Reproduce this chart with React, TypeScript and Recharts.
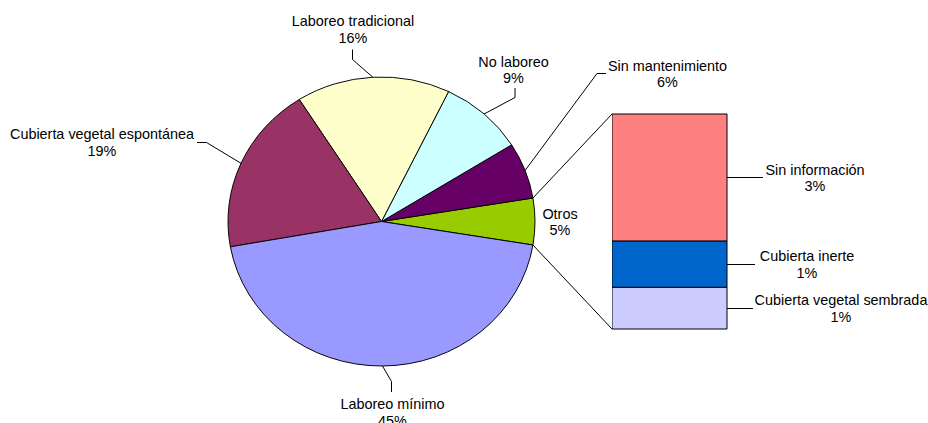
import React from 'react';
import { PieChart, Pie, Cell, BarChart, Bar, XAxis, YAxis, LabelList } from 'recharts';

// breakdown of "Otros" (drawn as the stacked bar)
const BAR_NAMES = ['Sin información', 'Cubierta inerte', 'Cubierta vegetal sembrada'];
const BAR_VALUES = [3.07, 1.12, 1.01];
const BAR_COLORS = ['#FF8080', '#0066CC', '#CCCCFF'];

const OTROS_TOTAL = BAR_VALUES.reduce((a, b) => a + b, 0);

// pie slices, counter-clockwise starting with "Otros" on the right
const PIE_NAMES = [
  'Otros',
  'Sin mantenimiento',
  'No laboreo',
  'Laboreo tradicional',
  'Cubierta vegetal espontánea',
  'Laboreo mínimo',
];
const PIE_VALUES = [OTROS_TOTAL, 6.3, 8.9, 16.2, 18.8, 44.6];
const PIE_COLORS = ['#99CC00', '#660066', '#CCFFFF', '#FFFFCC', '#993366', '#9999FF'];

const PIE_TOTAL = PIE_VALUES.reduce((a, b) => a + b, 0);

// layout
const W = 928;
const H = 423;
const CX = 381.5;
const CY = 221.5;
const RX = 153.5;
const RY = 144.5;
const BAR_LEFT = 612;
const BAR_RIGHT = 727;
const BAR_TOP = 114;
const BAR_BOTTOM = 329;
const FONT = "'Liberation Sans', Arial, sans-serif";
const FS = 14.4;
const LINE_H = 16.7;

const START = -(OTROS_TOTAL / PIE_TOTAL) * 180;

const pieData = PIE_NAMES.map((name, i) => ({ name, value: PIE_VALUES[i] }));
const barRow: Record<string, number | string> = { name: 'Otros' };
BAR_VALUES.forEach((v, i) => {
  barRow[`s${i}`] = v;
});

const PIE_LABEL_POS: Record<string, { x: number; y: number; path?: number[][] }> = {
  Otros: { x: 560, y: 218.5 },
  'Sin mantenimiento': { x: 667.5, y: 70.5, path: [[597, 73.5], [606, 73.5]] },
  'No laboreo': { x: 513.5, y: 66.5, path: [[515, 97.5], [515, 88]] },
  'Laboreo tradicional': { x: 353, y: 26, path: [[352.5, 59.5], [352.5, 49.5]] },
  'Cubierta vegetal espontánea': { x: 102, y: 139, path: [[206.5, 142.5], [197, 142.5]] },
  'Laboreo mínimo': { x: 392.5, y: 409, path: [[391.5, 381.5], [391.5, 392]] },
};

const BAR_LABEL_POS = [
  { lineEnd: 763, x: 815, dy: -2.7 },
  { lineEnd: 755, x: 807, dy: -3 },
  { lineEnd: 753, x: 841, dy: -3 },
];

const ellipsePoint = (cx: number, cy: number, deg: number) => {
  const r = (deg * Math.PI) / 180;
  return [cx + RX * Math.cos(r), cy - RY * Math.sin(r)];
};

const TwoLines = ({ x, y, a, b }: { x: number; y: number; a: string; b: string }) => (
  <text x={x} y={y} textAnchor="middle" fontFamily={FONT} fontSize={FS} fill="#000">
    <tspan x={x} y={y}>{a}</tspan>
    <tspan x={x} y={y + LINE_H}>{b}</tspan>
  </text>
);

const renderPieLabel = (props: any) => {
  const { cx, cy, midAngle, index } = props;
  const name = PIE_NAMES[index];
  const pos = PIE_LABEL_POS[name];
  const pct = Math.round((PIE_VALUES[index] / PIE_TOTAL) * 100);
  const [ax, ay] = ellipsePoint(cx, cy, midAngle);
  let leader = null;
  if (pos.path) {
    const pts = [[ax, ay], ...pos.path].map((p) => p.join(',')).join(' ');
    leader = <polyline points={pts} fill="none" stroke="#000" strokeWidth={1} />;
  }
  let connectors = null;
  if (index === 0) {
    const half = (PIE_VALUES[0] / PIE_TOTAL) * 180;
    const [tx, ty] = ellipsePoint(cx, cy, midAngle + half);
    const [bx, by] = ellipsePoint(cx, cy, midAngle - half);
    connectors = (
      <g>
        <line x1={tx} y1={ty} x2={BAR_LEFT} y2={BAR_TOP} stroke="#000" strokeWidth={1} />
        <line x1={bx} y1={by} x2={BAR_LEFT} y2={BAR_BOTTOM} stroke="#000" strokeWidth={1} />
      </g>
    );
  }
  return (
    <g key={`pl-${index}`}>
      {connectors}
      {leader}
      <TwoLines x={pos.x} y={pos.y} a={name} b={`${pct}%`} />
    </g>
  );
};

const makeBarLabel = (i: number) => (props: any) => {
  const vb = props.viewBox ?? props;
  const x = Number(vb.x);
  const y = Number(vb.y);
  const w = Number(vb.width);
  const h = Number(vb.height);
  const right = x + w;
  const mid = y + h / 2;
  const pos = BAR_LABEL_POS[i];
  const pct = Math.round((BAR_VALUES[i] / PIE_TOTAL) * 100);
  const lineY = Math.round(mid) + 0.5;
  return (
    <g>
      <line x1={right} y1={lineY} x2={pos.lineEnd - BAR_LEFT + x} y2={lineY} stroke="#000" strokeWidth={1} />
      <TwoLines x={pos.x - BAR_LEFT + x} y={mid + pos.dy} a={BAR_NAMES[i]} b={`${pct}%`} />
    </g>
  );
};

const App: React.FC = () => {
  const barTopMargin = 14;
  const barH = 240;
  const barW = W - BAR_LEFT;
  return (
    <div style={{ position: 'absolute', left: 0, top: 0, width: W, height: H, overflow: 'hidden', background: '#fff' }}>
      {/* pie sectors, squashed vertically to an ellipse */}
      <div
        style={{
          position: 'absolute',
          left: 0,
          top: 0,
          transform: `scaleY(${RY / RX})`,
          transformOrigin: `0px ${CY}px`,
        }}
      >
        <PieChart width={W} height={H} margin={{ top: 0, right: 0, bottom: 0, left: 0 }}>
          <Pie
            data={pieData}
            dataKey="value"
            nameKey="name"
            cx={CX}
            cy={CY}
            outerRadius={RX}
            startAngle={START}
            endAngle={START + 360}
            stroke="#000"
            strokeWidth={1}
            isAnimationActive={false}
          >
            {pieData.map((d, i) => (
              <Cell key={d.name} fill={PIE_COLORS[i]} />
            ))}
          </Pie>
        </PieChart>
      </div>

      {/* labels and leader lines */}
      <div style={{ position: 'absolute', left: 0, top: 0 }}>
        <PieChart width={W} height={H} margin={{ top: 0, right: 0, bottom: 0, left: 0 }}>
          <Pie
            data={pieData}
            dataKey="value"
            nameKey="name"
            cx={CX}
            cy={CY}
            outerRadius={RX}
            startAngle={START}
            endAngle={START + 360}
            fill="none"
            stroke="none"
            label={renderPieLabel}
            labelLine={false}
            isAnimationActive={false}
          />
        </PieChart>
      </div>

      {/* stacked bar of "Otros" */}
      <div style={{ position: 'absolute', left: BAR_LEFT, top: BAR_TOP - barTopMargin }}>
        <BarChart
          width={barW}
          height={barH}
          data={[barRow]}
          margin={{
            top: barTopMargin,
            right: barW - (BAR_RIGHT - BAR_LEFT),
            bottom: barH - barTopMargin - (BAR_BOTTOM - BAR_TOP),
            left: 0,
          }}
          barCategoryGap={0}
          barGap={0}
        >
          <XAxis dataKey="name" hide />
          <YAxis type="number" domain={[0, OTROS_TOTAL]} hide />
          {[2, 1, 0].map((i) => (
            <Bar
              key={i}
              dataKey={`s${i}`}
              stackId="otros"
              fill={BAR_COLORS[i]}
              stroke="#000"
              strokeWidth={1}
              isAnimationActive={false}
            >
              <LabelList dataKey={`s${i}`} content={makeBarLabel(i)} />
            </Bar>
          ))}
        </BarChart>
      </div>
    </div>
  );
};

export default App;
